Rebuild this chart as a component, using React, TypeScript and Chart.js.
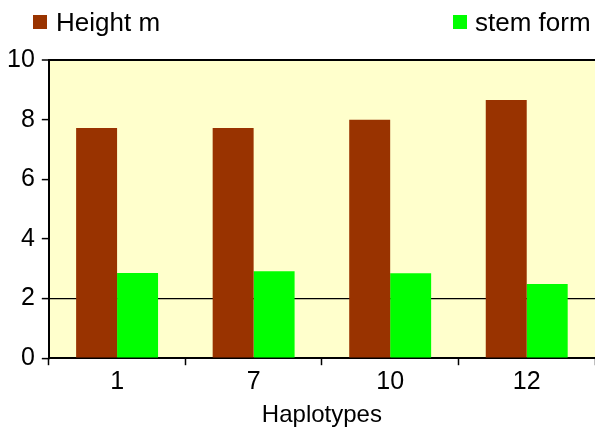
import React, { useEffect, useRef } from "react";
import { Chart, registerables } from "chart.js";

Chart.register(...registerables);

const categories = ["1", "7", "10", "12"];
const heightValues = [7.72, 7.72, 8.0, 8.66];
const stemFormValues = [2.86, 2.92, 2.85, 2.49];
const seriesNames = ["Height m", "stem form"];
const seriesColors = ["#993300", "#00FF00"];
const yMin = 0;
const yMax = 10;
const yStep = 2;
const xTitle = "Haplotypes";

const FONT = "'Liberation Sans', Arial, sans-serif";

const bgPlugin = {
  id: "plotBg",
  beforeDraw(chart: any) {
    const { ctx, chartArea } = chart;
    ctx.save();
    ctx.fillStyle = "#FFFFCC";
    ctx.fillRect(chartArea.left, chartArea.top, chartArea.right - chartArea.left, chartArea.bottom - chartArea.top);
    ctx.restore();
  },
};

export default function App() {
  const ref = useRef<HTMLCanvasElement | null>(null);

  useEffect(() => {
    if (!ref.current) return;
    const chart = new Chart(ref.current, {
      type: "bar",
      data: {
        labels: categories,
        datasets: [
          {
            label: seriesNames[0],
            data: heightValues,
            backgroundColor: seriesColors[0],
            categoryPercentage: 0.6,
            barPercentage: 1.0,
          },
          {
            label: seriesNames[1],
            data: stemFormValues,
            backgroundColor: seriesColors[1],
            categoryPercentage: 0.6,
            barPercentage: 1.0,
          },
        ],
      },
      options: {
        animation: false,
        responsive: false,
        maintainAspectRatio: false,
        layout: { padding: { top: 60, left: 0, right: 0, bottom: 0 } },
        plugins: {
          legend: { display: false },
          tooltip: { enabled: false },
        },
        scales: {
          x: {
            grid: {
              drawOnChartArea: false,
              tickLength: 7,
              tickColor: "#000",
              tickWidth: 1.5,
              offset: true,
            },
            border: { color: "#000", width: 2 },
            ticks: { color: "#000", font: { family: FONT, size: 25 }, padding: 2 },
            title: {
              display: true,
              text: xTitle,
              color: "#000",
              font: { family: FONT, size: 24 },
              padding: { top: 2, bottom: 0 },
            },
          },
          y: {
            min: yMin,
            max: yMax,
            ticks: {
              stepSize: yStep,
              color: "#000",
              font: { family: FONT, size: 25 },
              padding: 7,
            },
            grid: {
              color: (c: any) =>
                c.tick && (c.tick.value === 2 || c.tick.value === 10) ? "#000" : "rgba(0,0,0,0)",
              lineWidth: (c: any) => (c.tick && c.tick.value === 10 ? 2 : 1.2),
              tickLength: 7,
              tickColor: "#000",
              tickWidth: 1.5,
            },
            border: { color: "#000", width: 2 },
          },
        },
      },
      plugins: [bgPlugin],
    });
    return () => chart.destroy();
  }, []);

  const legendItems = [
    { box: 33, text: 56 },
    { box: 453, text: 475 },
  ];

  return (
    <div style={{ position: "fixed", left: 0, top: 0, width: 595, height: 430, background: "#fff" }}>
      <canvas ref={ref} width={595} height={430} style={{ display: "block" }} />
      {seriesNames.map((name, i) => (
        <React.Fragment key={name}>
          <div
            style={{
              position: "absolute",
              left: legendItems[i].box,
              top: 15,
              width: 14,
              height: 14,
              background: seriesColors[i],
            }}
          />
          <div
            style={{
              position: "absolute",
              left: legendItems[i].text,
              top: 6,
              fontFamily: FONT,
              fontSize: 26,
              lineHeight: "32px",
              color: "#000",
              whiteSpace: "nowrap",
            }}
          >
            {name}
          </div>
        </React.Fragment>
      ))}
    </div>
  );
}
